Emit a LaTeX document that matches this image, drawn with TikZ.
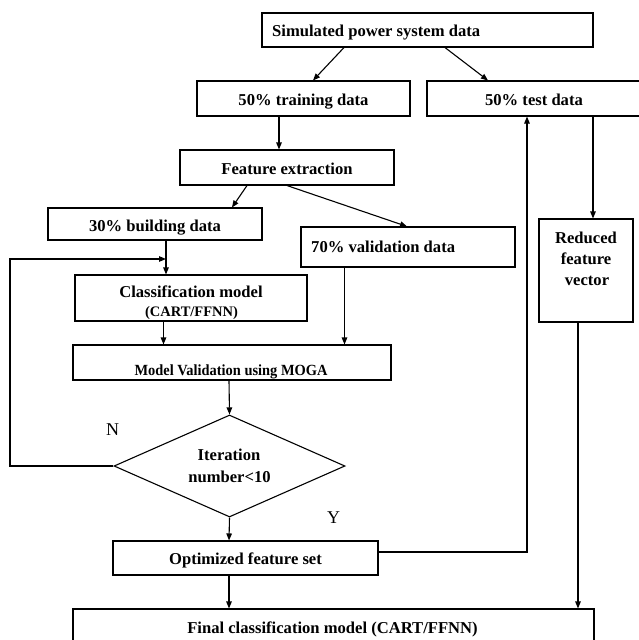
\documentclass[tikz,border=0pt]{standalone}
\usepackage{fontspec}
\setmainfont{Liberation Serif}
\newfontfamily\condfont[FakeStretch=0.93]{Liberation Serif}
\usetikzlibrary{arrows.meta,shapes.geometric,calc}
\begin{document}
\begin{tikzpicture}[x=1pt,y=-1pt,
  box/.style={draw, line width=1.1pt, inner sep=0pt},
  txt/.style={inner sep=0pt, anchor=base, font=\bfseries\fontsize{16.6}{20}\selectfont},
  smalltxt/.style={inner sep=0pt, anchor=base, font=\bfseries\fontsize{14.5}{18}\selectfont},
  condtxt/.style={inner sep=0pt, anchor=base, font=\condfont\bfseries\fontsize{15.5}{18}\selectfont},
  yn/.style={inner sep=0pt, anchor=base, font=\fontsize{18}{22}\selectfont},
  arr/.style={-{Triangle[length=7pt,width=5.5pt]}, line width=1.1pt}]
\fill[white] (0,0) rectangle (638,640);
\useasboundingbox (0,0) rectangle (638,640);

% boxes
\node[box, minimum width=331pt, minimum height=34pt] (sim) at (427.5,30) {};
\node[box, minimum width=213pt, minimum height=35pt] (train) at (303.5,98.5) {};
\node[box, minimum width=218pt, minimum height=35pt] (test) at (536,98.5) {};
\node[box, minimum width=214pt, minimum height=35pt] (feat) at (287,167.5) {};
\node[box, minimum width=214pt, minimum height=32pt] (build) at (155,224) {};
\node[box, minimum width=214pt, minimum height=40pt] (valid) at (408,247) {};
\node[box, minimum width=94pt, minimum height=103pt] (red) at (586,270.5) {};
\node[box, minimum width=232pt, minimum height=46pt] (class) at (191,298) {};
\node[box, minimum width=318pt, minimum height=35pt] (mv) at (232,362.5) {};
\node[box, diamond, aspect=2.26, minimum width=231pt, minimum height=102pt] (dia) at (229.5,466) {};
\node[box, minimum width=265pt, minimum height=34pt] (opt) at (245.5,558) {};
\node[box, minimum width=521pt, minimum height=36pt] (final) at (333.5,627) {};

% texts
\node[txt, anchor=base west] (simT) at (272,36) {Simulated power system data};
\node[txt] (trainT) at (303.5,105.5) {50\% training data};
\node[txt] (testT) at (534,105.5) {50\% test data};
\node[txt] (featT) at (287,174) {Feature extraction};
\node[txt] (buildT) at (155,231) {30\% building data};
\node[txt, anchor=base west] (validT) at (311,252) {70\% validation data};
\node[txt] (red1) at (586,243) {Reduced};
\node[txt] (red2) at (586,264) {feature};
\node[txt] (red3) at (587,285) {vector};
\node[txt] (class1) at (191,297) {Classification model};
\node[smalltxt] (class2) at (191.5,316.5) {(CART/FFNN)};
\node[condtxt] (mvT) at (231,375) {Model Validation using MOGA};
\node[txt] (it1) at (229,460) {Iteration};
\node[txt] (it2) at (229.5,482) {number<10};
\node[txt] (optT) at (245.5,564) {Optimized feature set};
\node[txt] (finalT) at (332.5,633) {Final classification model (CART/FFNN)};
\node[yn] (N) at (112.5,435) {N};
\node[yn] (Y) at (333.5,523) {Y};

% x positions for connectors
\coordinate (xa) at (344,0);
\coordinate (xb) at (313,0);
\coordinate (xc) at (445,0);
\coordinate (xd) at (488,0);
\coordinate (xe) at (279,0);
\coordinate (xf) at (247,0);
\coordinate (xg) at (232,0);
\coordinate (xh) at (287,0);
\coordinate (xi) at (407,0);
\coordinate (xj) at (166,0);
\coordinate (xk) at (163.5,0);
\coordinate (xl) at (344.5,0);
\coordinate (xm) at (229,0);
\coordinate (xn) at (527,0);
\coordinate (xo) at (593,0);
\coordinate (xp) at (578,0);
\coordinate (xq) at (10,0);
\coordinate (yfb) at (0,259);
\coordinate (optout) at ($(opt.east)+(0,-6)$);

% connectors
\draw[arr] (sim.south -| xa) -- (train.north -| xb);
\draw[arr] (sim.south -| xc) -- (test.north -| xd);
\draw[arr] (train.south -| xe) -- (feat.north -| xe);
\draw[arr] (feat.south -| xf) -- (build.north -| xg);
\draw[arr] (feat.south -| xh) -- (valid.north -| xi);
\draw[arr] (build.south -| xj) -- (class.north -| xj);
\draw[arr] (class.south -| xk) -- (mv.north -| xk);
\draw[arr] (valid.south -| xl) -- (mv.north -| xl);
\draw[arr] (mv.south -| xm) -- (dia.north);
\draw[arr] (dia.south) -- (opt.north -| xm);
\draw[arr] (opt.south -| xm) -- (final.north -| xm);
\draw[arr] (dia.west) -- (dia.west -| xq) -- (xq |- yfb) -- (xj |- yfb);
\draw[arr] (optout) -- (optout -| xn) -- (test.south -| xn);
\draw[arr] (test.south -| xo) -- (red.north -| xo);
\draw[arr] (red.south -| xp) -- (final.north -| xp);
\end{tikzpicture}
\end{document}
